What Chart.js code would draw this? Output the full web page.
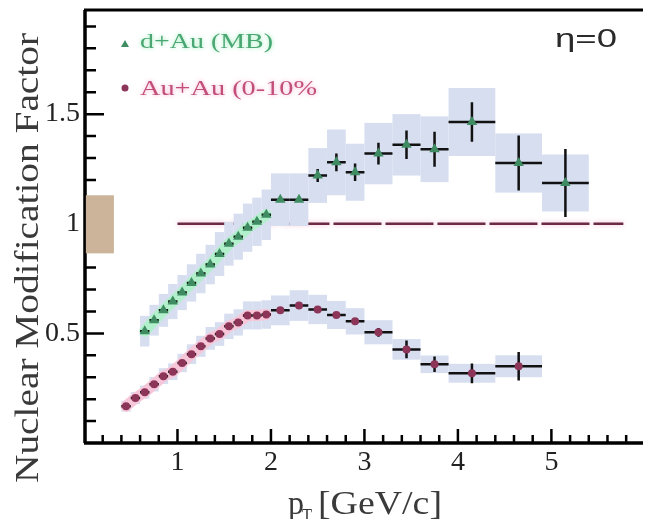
<!DOCTYPE html>
<html>
<head>
<meta charset="utf-8">
<script src="https://cdn.jsdelivr.net/npm/chart.js@4.4.1/dist/chart.umd.min.js"></script>
<style>
  html, body { margin: 0; padding: 0; background: #fff; overflow: hidden; }
</style>
</head>
<body>
<canvas id="c" width="649" height="519"></canvas>
<script>
// d+Au (MB)
const dauPt   = [0.65, 0.75, 0.85, 0.95, 1.05, 1.15, 1.25, 1.35, 1.45, 1.55, 1.65, 1.75, 1.85, 1.95, 2.1, 2.3, 2.5, 2.7, 2.9, 3.15, 3.45, 3.75, 4.15, 4.65, 5.15];
const dauR    = [0.51, 0.56, 0.605, 0.645, 0.686, 0.73, 0.773, 0.814, 0.862, 0.909, 0.941, 0.982, 1.009, 1.041, 1.11, 1.11, 1.22, 1.28, 1.235, 1.32, 1.36, 1.34, 1.464, 1.277, 1.186];
const dauStat = [0.005, 0.005, 0.005, 0.005, 0.005, 0.005, 0.005, 0.005, 0.005, 0.005, 0.005, 0.005, 0.005, 0.005, 0.01, 0.01, 0.03, 0.04, 0.04, 0.05, 0.065, 0.08, 0.09, 0.125, 0.155];
const dauBin  = [0.05, 0.05, 0.05, 0.05, 0.05, 0.05, 0.05, 0.05, 0.05, 0.05, 0.05, 0.05, 0.05, 0.05, 0.1, 0.1, 0.1, 0.1, 0.1, 0.15, 0.15, 0.15, 0.25, 0.25, 0.25];
const dauSys  = [0.07, 0.07, 0.075, 0.08, 0.08, 0.085, 0.09, 0.09, 0.1, 0.1, 0.105, 0.11, 0.11, 0.115, 0.12, 0.12, 0.125, 0.15, 0.13, 0.14, 0.14, 0.15, 0.155, 0.135, 0.13];

// Au+Au (0-10%)
const auPt   = [0.45, 0.55, 0.65, 0.75, 0.85, 0.95, 1.05, 1.15, 1.25, 1.35, 1.45, 1.55, 1.65, 1.75, 1.85, 1.95, 2.1, 2.3, 2.5, 2.7, 2.9, 3.15, 3.45, 3.75, 4.15, 4.65];
const auR    = [0.168, 0.205, 0.232, 0.268, 0.305, 0.325, 0.365, 0.405, 0.441, 0.477, 0.497, 0.532, 0.55, 0.582, 0.582, 0.586, 0.605, 0.627, 0.609, 0.584, 0.555, 0.505, 0.427, 0.359, 0.318, 0.35];
const auStat = [0.004, 0.004, 0.004, 0.004, 0.004, 0.004, 0.004, 0.004, 0.004, 0.004, 0.004, 0.004, 0.004, 0.004, 0.004, 0.004, 0.01, 0.01, 0.01, 0.01, 0.01, 0.02, 0.04, 0.035, 0.045, 0.065];
const auBin  = [0.05, 0.05, 0.05, 0.05, 0.05, 0.05, 0.05, 0.05, 0.05, 0.05, 0.05, 0.05, 0.05, 0.05, 0.05, 0.05, 0.1, 0.1, 0.1, 0.1, 0.1, 0.15, 0.15, 0.15, 0.25, 0.25];
const auSys  = [0.025, 0.028, 0.03, 0.033, 0.036, 0.038, 0.042, 0.045, 0.048, 0.052, 0.054, 0.058, 0.06, 0.064, 0.064, 0.065, 0.068, 0.07, 0.067, 0.064, 0.06, 0.055, 0.047, 0.04, 0.043, 0.05];

// unity reference and normalisation box
const unityX = [1.0, 5.77];
const normBoxX = [0.02, 0.32];
const normBoxY = [0.865, 1.13];

// axis ticks
const xMajor = [1, 2, 3, 4, 5];
const xMinor = [0.2, 0.4, 0.6, 0.8, 1.2, 1.4, 1.6, 1.8, 2.2, 2.4, 2.6, 2.8, 3.2, 3.4, 3.6, 3.8, 4.2, 4.4, 4.6, 4.8, 5.2, 5.4, 5.6, 5.8];
const yMajor = [0.5, 1, 1.5];
const yMinor = [0.1, 0.2, 0.3, 0.4, 0.6, 0.7, 0.8, 0.9, 1.1, 1.2, 1.3, 1.4, 1.6, 1.7, 1.8, 1.9];

const GREEN = '#3f8c62';
const RED = '#8c3558';
const BAND = 'rgb(214,222,240)';
const SERIF = "'Liberation Serif', 'Times New Roman', Times, serif";
const SANS = "'Liberation Sans', Arial, Helvetica, sans-serif";

function fitText(ctx, s, x, y, w, font, color) {
    ctx.save();
    ctx.font = font;
    ctx.fillStyle = color;
    ctx.textAlign = 'left';
    ctx.textBaseline = 'alphabetic';
    const m = ctx.measureText(s).width;
    ctx.translate(x, y);
    ctx.scale(w / m, 1);
    ctx.fillText(s, 0, 0);
    ctx.restore();
}

const decor = {
    id: 'decor',
    beforeDatasetDraw(chart, args) {
        const ctx = chart.ctx, xs = chart.scales.x, ys = chart.scales.y;
        if (args.index === 0) {
            ctx.save();
            ctx.shadowColor = 'rgba(245,170,200,0.8)';
            ctx.shadowBlur = 5;
        }
        if (args.index === 1) {
            // systematic bands
            ctx.save();
            ctx.fillStyle = BAND;
            const band = (pt, r, bin, sys) => {
                pt.forEach((p, i) => {
                    const x0 = xs.getPixelForValue(p - bin[i]);
                    const x1 = xs.getPixelForValue(p + bin[i]);
                    const y0 = ys.getPixelForValue(r[i] + sys[i]);
                    const y1 = ys.getPixelForValue(r[i] - sys[i]);
                    ctx.fillRect(x0, y0, x1 - x0, y1 - y0);
                });
            };
            band(dauPt, dauR, dauBin, dauSys);
            band(auPt, auR, auBin, auSys);
            ctx.restore();
        }
    },
    afterDatasetDraw(chart, args) {
        const ctx = chart.ctx, xs = chart.scales.x, ys = chart.scales.y;
        if (args.index === 0) ctx.restore();
        if (args.index === 2) {
            // error bars
            ctx.save();
            ctx.strokeStyle = '#111';
            ctx.lineWidth = 2.5;
            const bars = (pt, r, bin, stat) => {
                pt.forEach((p, i) => {
                    const y = ys.getPixelForValue(r[i]);
                    ctx.beginPath();
                    ctx.moveTo(xs.getPixelForValue(p - bin[i]), y);
                    ctx.lineTo(xs.getPixelForValue(p + bin[i]), y);
                    const x = xs.getPixelForValue(p);
                    ctx.moveTo(x, ys.getPixelForValue(r[i] - stat[i]));
                    ctx.lineTo(x, ys.getPixelForValue(r[i] + stat[i]));
                    ctx.stroke();
                });
            };
            bars(dauPt, dauR, dauBin, dauStat);
            bars(auPt, auR, auBin, auStat);
            ctx.restore();
        }
    },
    afterDraw(chart) {
        const ctx = chart.ctx, xs = chart.scales.x, ys = chart.scales.y;
        const ca = chart.chartArea;
        ctx.save();
        ctx.strokeStyle = '#000';
        // frame
        ctx.lineWidth = 3.5;
        ctx.beginPath();
        ctx.moveTo(ca.left + 1, ca.top);
        ctx.lineTo(ca.left + 1, ca.bottom);
        ctx.moveTo(ca.left, ca.bottom);
        ctx.lineTo(ca.right, ca.bottom);
        ctx.stroke();
        ctx.lineWidth = 3;
        ctx.beginPath();
        ctx.moveTo(ca.left, ca.top);
        ctx.lineTo(ca.right, ca.top);
        ctx.stroke();
        // inward ticks
        ctx.lineWidth = 2.5;
        ctx.beginPath();
        xMinor.forEach(v => { const x = xs.getPixelForValue(v); ctx.moveTo(x, ca.bottom); ctx.lineTo(x, ca.bottom - 8); });
        xMajor.forEach(v => { const x = xs.getPixelForValue(v); ctx.moveTo(x, ca.bottom); ctx.lineTo(x, ca.bottom - 14); });
        yMinor.forEach(v => { const y = ys.getPixelForValue(v); ctx.moveTo(ca.left, y); ctx.lineTo(ca.left + 12, y); });
        yMajor.forEach(v => { const y = ys.getPixelForValue(v); ctx.moveTo(ca.left, y); ctx.lineTo(ca.left + 20, y); });
        ctx.stroke();
        // normalisation box
        ctx.fillStyle = '#cbb49a';
        const bx0 = xs.getPixelForValue(normBoxX[0]), bx1 = xs.getPixelForValue(normBoxX[1]);
        const by0 = ys.getPixelForValue(normBoxY[1]), by1 = ys.getPixelForValue(normBoxY[0]);
        ctx.fillRect(bx0, by0, bx1 - bx0, by1 - by0);
        ctx.restore();

        // axis titles
        ctx.save();
        ctx.translate(38, 483);
        ctx.rotate(-Math.PI / 2);
        fitText(ctx, 'Nuclear Modification Factor', 0, 0, 450, '34px ' + SERIF, '#3a3a3a');
        ctx.restore();
        fitText(ctx, 'p', 288, 514, 16, '34px ' + SERIF, '#3a3a3a');
        fitText(ctx, 'T', 302, 523, 10, '22px ' + SERIF, '#3a3a3a');
        fitText(ctx, '[GeV/c]', 318, 514, 124, '34px ' + SERIF, '#3a3a3a');

        // eta label
        fitText(ctx, 'η=0', 555, 47, 62, '26px ' + SANS, '#2a2a2a');

        // legend
        ctx.save();
        ctx.fillStyle = GREEN;
        ctx.beginPath();
        ctx.moveTo(125, 40); ctx.lineTo(129, 47); ctx.lineTo(121, 47); ctx.closePath();
        ctx.fill();
        ctx.fillStyle = RED;
        ctx.beginPath();
        ctx.arc(125, 88, 3.5, 0, Math.PI * 2);
        ctx.fill();
        ctx.shadowColor = 'rgba(120,230,160,0.8)';
        ctx.shadowBlur = 4;
        fitText(ctx, 'd+Au (MB)', 140, 48, 133, '22px ' + SERIF, '#4aa672');
        ctx.shadowColor = 'rgba(245,150,190,0.8)';
        fitText(ctx, 'Au+Au (0-10%', 140, 95, 177, '22px ' + SERIF, '#c24f7a');
        ctx.restore();
    }
};

const tickFont = { family: SERIF, size: 28 };

new Chart(document.getElementById('c'), {
    type: 'scatter',
    data: {
        datasets: [
            {
                type: 'line',
                data: unityX.map(x => ({ x, y: 1 })),
                borderColor: '#6b2b45',
                borderWidth: 2.5,
                borderDash: [48, 4],
                pointRadius: 0,
                order: 10
            },
            {
                type: 'line',
                data: dauPt.slice(0, 14).map((x, i) => ({ x, y: dauR[i] })),
                borderColor: '#b2f0cc',
                borderWidth: 11,
                borderCapStyle: 'round',
                pointRadius: 0,
                order: 8
            },
            {
                type: 'line',
                data: auPt.slice(0, 16).map((x, i) => ({ x, y: auR[i] })),
                borderColor: '#f7c6d8',
                borderWidth: 11,
                borderCapStyle: 'round',
                pointRadius: 0,
                order: 7
            },
            {
                data: dauPt.map((x, i) => ({ x, y: dauR[i] })),
                pointStyle: 'triangle',
                pointRadius: 6,
                backgroundColor: GREEN,
                borderColor: GREEN,
                borderWidth: 0,
                order: 1
            },
            {
                data: auPt.map((x, i) => ({ x, y: auR[i] })),
                pointStyle: 'circle',
                pointRadius: 4,
                backgroundColor: RED,
                borderColor: RED,
                borderWidth: 0,
                order: 1
            }
        ]
    },
    options: {
        responsive: false,
        animation: false,
        events: [],
        layout: { padding: { top: 10, right: 0, left: 0, bottom: 0 } },
        plugins: { legend: { display: false }, tooltip: { enabled: false } },
        scales: {
            x: {
                type: 'linear',
                min: 0,
                max: 5.98,
                grid: { display: false, drawTicks: false },
                border: { display: false },
                afterBuildTicks: s => { s.ticks = xMajor.map(v => ({ value: v })); },
                afterFit: s => { s.height = 76; s.paddingLeft = 0; s.paddingRight = 0; },
                ticks: { font: tickFont, color: '#222', padding: 3, maxRotation: 0, autoSkip: false,
                         callback: v => String(v) }
            },
            y: {
                type: 'linear',
                min: 0,
                max: 1.975,
                grid: { display: false, drawTicks: false },
                border: { display: false },
                afterBuildTicks: s => { s.ticks = yMajor.map(v => ({ value: v })); },
                afterFit: s => { s.width = 84; s.paddingTop = 0; s.paddingBottom = 0; },
                ticks: { font: tickFont, color: '#222', padding: 4, autoSkip: false,
                         callback: v => String(v) }
            }
        }
    },
    plugins: [decor]
});
</script>
</body>
</html>
